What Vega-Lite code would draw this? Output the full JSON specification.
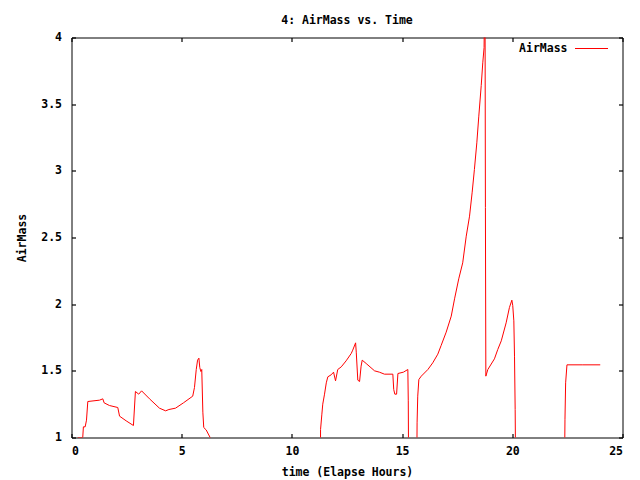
{
  "$schema": "https://vega.github.io/schema/vega-lite/v6.json",
  "autosize": "none",
  "padding": {"left": 71.5, "top": 37.5, "right": 17.5, "bottom": 42.5},
  "width": 551,
  "height": 400,
  "background": "white",
  "title": {"text": "4: AirMass vs. Time", "font": "DejaVu Sans Mono", "fontSize": 11.5, "fontWeight": "bold", "color": "black", "offset": 5, "anchor": "middle"},
  "config": {
    "font": "DejaVu Sans Mono",
    "view": {"stroke": "black", "strokeWidth": 1},
    "axis": {"grid": false, "domain": false, "labelColor": "black", "titleColor": "black", "labelFont": "DejaVu Sans Mono", "titleFont": "DejaVu Sans Mono", "labelFontSize": 11.5, "titleFontSize": 11.5, "labelFontWeight": "bold", "titleFontWeight": "bold"}
  },
  "data": {"values": [
    {"t": 0.0, "am": 0.6, "s": "AirMass"},
    {"t": 0.3, "am": 1.0, "s": "AirMass"},
    {"t": 0.51, "am": 1.0, "s": "AirMass"},
    {"t": 0.54, "am": 1.08, "s": "AirMass"},
    {"t": 0.62, "am": 1.08, "s": "AirMass"},
    {"t": 0.68, "am": 1.13, "s": "AirMass"},
    {"t": 0.74, "am": 1.27, "s": "AirMass"},
    {"t": 1.27, "am": 1.28, "s": "AirMass"},
    {"t": 1.42, "am": 1.29, "s": "AirMass"},
    {"t": 1.48, "am": 1.26, "s": "AirMass"},
    {"t": 1.72, "am": 1.24, "s": "AirMass"},
    {"t": 2.10, "am": 1.225, "s": "AirMass"},
    {"t": 2.18, "am": 1.16, "s": "AirMass"},
    {"t": 2.48, "am": 1.125, "s": "AirMass"},
    {"t": 2.81, "am": 1.09, "s": "AirMass"},
    {"t": 2.90, "am": 1.345, "s": "AirMass"},
    {"t": 3.05, "am": 1.325, "s": "AirMass"},
    {"t": 3.18, "am": 1.35, "s": "AirMass"},
    {"t": 3.54, "am": 1.29, "s": "AirMass"},
    {"t": 3.99, "am": 1.22, "s": "AirMass"},
    {"t": 4.27, "am": 1.20, "s": "AirMass"},
    {"t": 4.42, "am": 1.21, "s": "AirMass"},
    {"t": 4.72, "am": 1.22, "s": "AirMass"},
    {"t": 5.08, "am": 1.26, "s": "AirMass"},
    {"t": 5.50, "am": 1.31, "s": "AirMass"},
    {"t": 5.58, "am": 1.375, "s": "AirMass"},
    {"t": 5.66, "am": 1.51, "s": "AirMass"},
    {"t": 5.72, "am": 1.58, "s": "AirMass"},
    {"t": 5.78, "am": 1.595, "s": "AirMass"},
    {"t": 5.82, "am": 1.525, "s": "AirMass"},
    {"t": 5.87, "am": 1.495, "s": "AirMass"},
    {"t": 5.91, "am": 1.51, "s": "AirMass"},
    {"t": 5.96, "am": 1.19, "s": "AirMass"},
    {"t": 6.00, "am": 1.075, "s": "AirMass"},
    {"t": 6.11, "am": 1.057, "s": "AirMass"},
    {"t": 6.29, "am": 1.0, "s": "AirMass"},
    {"t": 6.45, "am": 0.85, "s": "AirMass"},
    {"t": 7.5, "am": 0.5, "s": "AirMass"},
    {"t": 9.0, "am": 0.4, "s": "AirMass"},
    {"t": 10.5, "am": 0.45, "s": "AirMass"},
    {"t": 11.29, "am": 0.5, "s": "AirMass"},
    {"t": 11.30, "am": 1.06, "s": "AirMass"},
    {"t": 11.36, "am": 1.175, "s": "AirMass"},
    {"t": 11.40, "am": 1.25, "s": "AirMass"},
    {"t": 11.48, "am": 1.325, "s": "AirMass"},
    {"t": 11.56, "am": 1.41, "s": "AirMass"},
    {"t": 11.63, "am": 1.455, "s": "AirMass"},
    {"t": 11.78, "am": 1.47, "s": "AirMass"},
    {"t": 11.89, "am": 1.49, "s": "AirMass"},
    {"t": 11.98, "am": 1.425, "s": "AirMass"},
    {"t": 12.08, "am": 1.51, "s": "AirMass"},
    {"t": 12.24, "am": 1.53, "s": "AirMass"},
    {"t": 12.46, "am": 1.575, "s": "AirMass"},
    {"t": 12.69, "am": 1.63, "s": "AirMass"},
    {"t": 12.76, "am": 1.655, "s": "AirMass"},
    {"t": 12.89, "am": 1.71, "s": "AirMass"},
    {"t": 12.92, "am": 1.64, "s": "AirMass"},
    {"t": 12.99, "am": 1.43, "s": "AirMass"},
    {"t": 13.07, "am": 1.42, "s": "AirMass"},
    {"t": 13.14, "am": 1.535, "s": "AirMass"},
    {"t": 13.19, "am": 1.58, "s": "AirMass"},
    {"t": 13.37, "am": 1.555, "s": "AirMass"},
    {"t": 13.75, "am": 1.50, "s": "AirMass"},
    {"t": 13.97, "am": 1.49, "s": "AirMass"},
    {"t": 14.20, "am": 1.475, "s": "AirMass"},
    {"t": 14.58, "am": 1.475, "s": "AirMass"},
    {"t": 14.62, "am": 1.36, "s": "AirMass"},
    {"t": 14.67, "am": 1.325, "s": "AirMass"},
    {"t": 14.75, "am": 1.325, "s": "AirMass"},
    {"t": 14.81, "am": 1.48, "s": "AirMass"},
    {"t": 15.06, "am": 1.49, "s": "AirMass"},
    {"t": 15.26, "am": 1.51, "s": "AirMass"},
    {"t": 15.28, "am": 1.275, "s": "AirMass"},
    {"t": 15.30, "am": 0.6, "s": "AirMass"},
    {"t": 15.66, "am": 0.6, "s": "AirMass"},
    {"t": 15.68, "am": 1.11, "s": "AirMass"},
    {"t": 15.71, "am": 1.31, "s": "AirMass"},
    {"t": 15.76, "am": 1.435, "s": "AirMass"},
    {"t": 15.87, "am": 1.46, "s": "AirMass"},
    {"t": 16.17, "am": 1.51, "s": "AirMass"},
    {"t": 16.39, "am": 1.56, "s": "AirMass"},
    {"t": 16.62, "am": 1.625, "s": "AirMass"},
    {"t": 16.77, "am": 1.69, "s": "AirMass"},
    {"t": 17.00, "am": 1.79, "s": "AirMass"},
    {"t": 17.23, "am": 1.91, "s": "AirMass"},
    {"t": 17.38, "am": 2.04, "s": "AirMass"},
    {"t": 17.57, "am": 2.19, "s": "AirMass"},
    {"t": 17.75, "am": 2.31, "s": "AirMass"},
    {"t": 17.91, "am": 2.51, "s": "AirMass"},
    {"t": 18.06, "am": 2.66, "s": "AirMass"},
    {"t": 18.18, "am": 2.84, "s": "AirMass"},
    {"t": 18.28, "am": 3.01, "s": "AirMass"},
    {"t": 18.39, "am": 3.21, "s": "AirMass"},
    {"t": 18.48, "am": 3.41, "s": "AirMass"},
    {"t": 18.59, "am": 3.64, "s": "AirMass"},
    {"t": 18.66, "am": 3.81, "s": "AirMass"},
    {"t": 18.72, "am": 3.925, "s": "AirMass"},
    {"t": 18.76, "am": 4.6, "s": "AirMass"},
    {"t": 18.78, "am": 2.725, "s": "AirMass"},
    {"t": 18.80, "am": 1.46, "s": "AirMass"},
    {"t": 18.89, "am": 1.51, "s": "AirMass"},
    {"t": 19.19, "am": 1.59, "s": "AirMass"},
    {"t": 19.34, "am": 1.66, "s": "AirMass"},
    {"t": 19.50, "am": 1.725, "s": "AirMass"},
    {"t": 19.72, "am": 1.86, "s": "AirMass"},
    {"t": 19.87, "am": 1.975, "s": "AirMass"},
    {"t": 19.98, "am": 2.03, "s": "AirMass"},
    {"t": 20.02, "am": 1.99, "s": "AirMass"},
    {"t": 20.07, "am": 1.875, "s": "AirMass"},
    {"t": 20.10, "am": 1.61, "s": "AirMass"},
    {"t": 20.13, "am": 1.21, "s": "AirMass"},
    {"t": 20.16, "am": 0.6, "s": "AirMass"},
    {"t": 21.0, "am": 0.4, "s": "AirMass"},
    {"t": 22.36, "am": 0.6, "s": "AirMass"},
    {"t": 22.39, "am": 1.137, "s": "AirMass"},
    {"t": 22.42, "am": 1.41, "s": "AirMass"},
    {"t": 22.48, "am": 1.545, "s": "AirMass"},
    {"t": 23.2, "am": 1.545, "s": "AirMass"},
    {"t": 23.99, "am": 1.545, "s": "AirMass"}
  ]},
  "layer": [
    {
      "mark": {"type": "line", "clip": true, "strokeWidth": 1},
      "encoding": {
        "x": {"field": "t", "type": "quantitative", "scale": {"domain": [0, 25], "nice": false, "zero": false},
          "axis": {"orient": "bottom", "values": [0, 5, 10, 15, 20, 25], "title": "time (Elapse Hours)", "ticks": true, "tickSize": 4, "tickWidth": 1.2, "tickColor": "black", "offset": -4, "zindex": 2, "labelPadding": 8, "titlePadding": 9}},
        "y": {"field": "am", "type": "quantitative", "scale": {"domain": [1, 4], "nice": false, "zero": false},
          "axis": {"orient": "left", "values": [1, 1.5, 2, 2.5, 3, 3.5, 4], "format": "~g", "title": "AirMass", "ticks": true, "tickSize": 4, "tickWidth": 1.2, "tickColor": "black", "offset": -4, "zindex": 2, "labelPadding": 10, "titlePadding": 13}},
        "color": {"field": "s", "type": "nominal", "scale": {"range": ["#ff0000"]},
          "legend": {"orient": "none", "legendX": 503, "legendY": -6, "title": null, "symbolType": "stroke", "symbolSize": 1089, "symbolStrokeWidth": 1, "labelAlign": "right", "labelOffset": -41, "labelFont": "DejaVu Sans Mono", "labelFontSize": 11.5, "labelFontWeight": "bold", "labelColor": "black"}}
      }
    },
    {
      "mark": {"type": "line", "clip": true, "strokeOpacity": 0},
      "encoding": {
        "x": {"field": "t", "type": "quantitative", "axis": {"orient": "top", "values": [0, 5, 10, 15, 20, 25], "labels": false, "title": null, "ticks": true, "tickSize": 4, "tickWidth": 1.2, "tickColor": "black", "offset": -4, "zindex": 2}},
        "y": {"field": "am", "type": "quantitative", "axis": {"orient": "right", "values": [1, 1.5, 2, 2.5, 3, 3.5, 4], "labels": false, "title": null, "ticks": true, "tickSize": 4, "tickWidth": 1.2, "tickColor": "black", "offset": -4, "zindex": 2}}
      }
    }
  ],
  "resolve": {"axis": {"x": "independent", "y": "independent"}}
}
